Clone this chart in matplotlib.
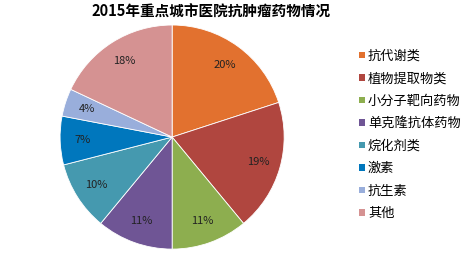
import matplotlib
matplotlib.use('Agg')
import matplotlib.pyplot as plt
from matplotlib.patches import Patch

plt.rcParams['font.family'] = ['Noto Sans CJK SC', 'DejaVu Sans']

# data
categories = ['抗代谢类', '植物提取物类', '小分子靶向药物', '单克隆抗体药物',
              '烷化剂类', '激素', '抗生素', '其他']
shares = [20, 19, 11, 11, 10, 7, 4, 18]
colors = ['#E2712F', '#B0463F', '#8DAE4F', '#6F5595',
          '#4599AF', '#0077BD', '#99AEDB', '#D59292']
title = '2015年重点城市医院抗肿瘤药物情况'

fig = plt.figure(figsize=(4.69, 2.69), dpi=100)
ax = fig.add_axes([0.128, 0.074, 0.478, 0.833])

wedges, texts, autotexts = ax.pie(
    shares, colors=colors, startangle=90, counterclock=False,
    autopct='%d%%', pctdistance=0.8, radius=1,
    wedgeprops=dict(linewidth=0.6, edgecolor='white'),
    textprops=dict(fontsize=8, color='#222222'))
ax.set_xlim(-1, 1)
ax.set_ylim(-1, 1)
ax.set_aspect('equal')

fig.text(0.45, 0.955, title, ha='center', va='center',
         fontsize=10.5, fontweight='bold')

handles = [Patch(facecolor=c, edgecolor='none') for c in colors]
fig.legend(handles, categories, loc='upper left',
           bbox_to_anchor=(0.755, 0.835), frameon=False,
           fontsize=9.5, handlelength=0.4, handleheight=0.4,
           handletextpad=0.25, labelspacing=0.72, borderaxespad=0)

fig.savefig('out.png', dpi=100)
